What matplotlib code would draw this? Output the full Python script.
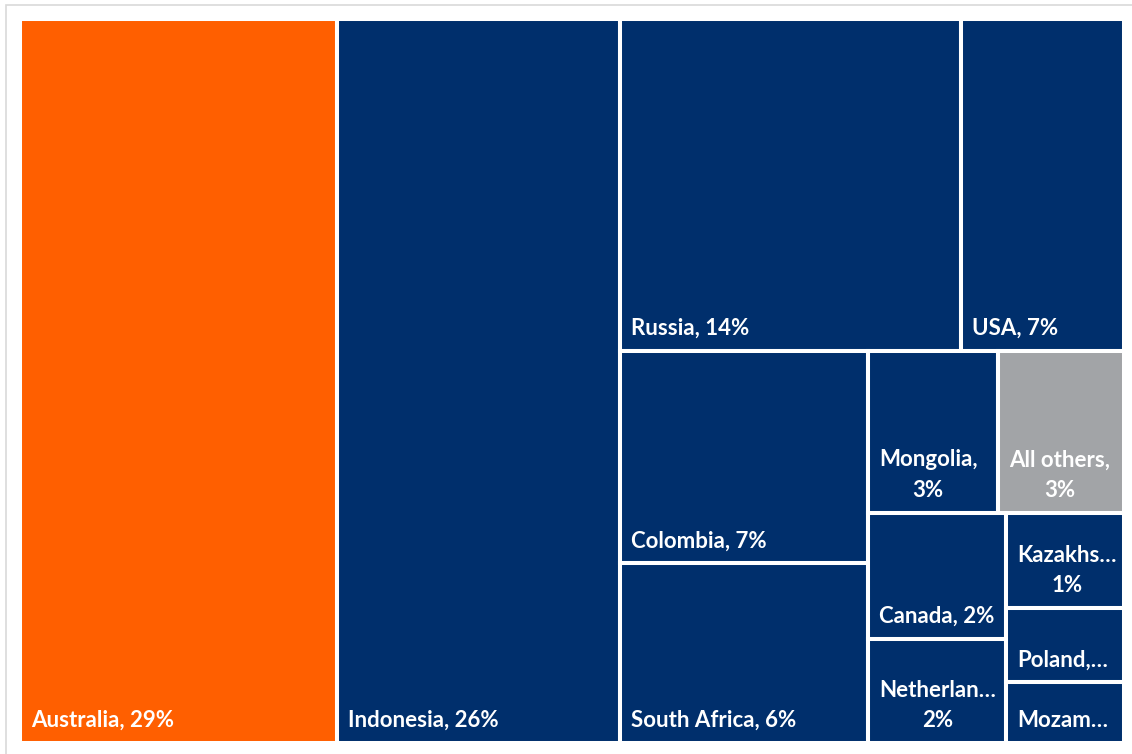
import matplotlib
matplotlib.use('Agg')
import matplotlib.pyplot as plt
from matplotlib.patches import Rectangle

# Share of total (%), largest first, as read from the tile areas
countries = ['Australia', 'Indonesia', 'Russia', 'USA', 'Colombia', 'South Africa',
             'Mongolia', 'All others', 'Canada', 'Netherlands', 'Kazakhstan',
             'Poland', 'Mozambique']
shares = [28.77, 25.63, 14.14, 6.76, 6.58, 5.57, 2.64, 2.54, 2.18, 1.81, 1.40, 1.09, 0.89]

# Text as Excel shows it (truncated where the tile is narrow)
tile_labels = ['Australia, 29%', 'Indonesia, 26%', 'Russia, 14%', 'USA, 7%',
               'Colombia, 7%', 'South Africa, 6%', 'Mongolia,\n3%', 'All others,\n3%',
               'Canada, 2%', 'Netherlan\u2026\n2%', 'Kazakhs\u2026\n1%', 'Poland,\u2026',
               'Mozam\u2026']

# How many tiles go in each strip of the layout
strips = [1, 1, 2, 2, 2, 2, 1, 1, 1]

ORANGE = '#FF5F00'
NAVY = '#002F6C'
GREY = '#A2A4A7'


def strip_layout(vals, groups, x, y, w, h):
    # squarify-style: each strip goes along the shorter side of what is left
    rects = []
    i = 0
    for n in groups:
        group = vals[i:i + n]
        left_total = sum(vals[i:])
        s = sum(group)
        if w >= h:
            cw = w * s / left_total
            yy = y
            for v in group:
                hh = h * v / s
                rects.append((x, yy, cw, hh))
                yy += hh
            x += cw
            w -= cw
        else:
            rh = h * s / left_total
            xx = x
            for v in group:
                ww = w * v / s
                rects.append((xx, y, ww, rh))
                xx += ww
            y += rh
            h -= rh
        i += n
    return rects


W, H = 1132, 754
fig = plt.figure(figsize=(W / 100, H / 100), dpi=100)

# light frame of the chart area (only its top and left edge are in view)
fig.patches.append(Rectangle((5.5, -100), 1300, H - 4.5 + 100, transform=None,
                             fill=False, edgecolor='#D9D9D9', linewidth=1.2))

px0, px1, py0, py1 = 20, 1123.5, 19, 743
ax = fig.add_axes([px0 / W, 1 - py1 / H, (px1 - px0) / W, (py1 - py0) / H])
aw, ah = px1 - px0, py1 - py0
ax.set_xlim(0, aw)
ax.set_ylim(ah, 0)
ax.axis('off')

rects = strip_layout(shares, strips, 0, 0, aw, ah)

for name, (x, y, w, h), text in zip(countries, rects, tile_labels):
    if name == 'Australia':
        color = ORANGE
    elif name == 'All others':
        color = GREY
    else:
        color = NAVY
    ax.add_patch(Rectangle((x, y), w, h, facecolor=color, edgecolor='white',
                           linewidth=2.9))
    ax.text(x + 11, y + h - 16, text, color='white', fontsize=16,
            fontweight='bold', family=['Lato', 'DejaVu Sans'],
            ha='left', va='baseline', multialignment='center', linespacing=1.55)

plt.savefig('out.png', dpi=100)
